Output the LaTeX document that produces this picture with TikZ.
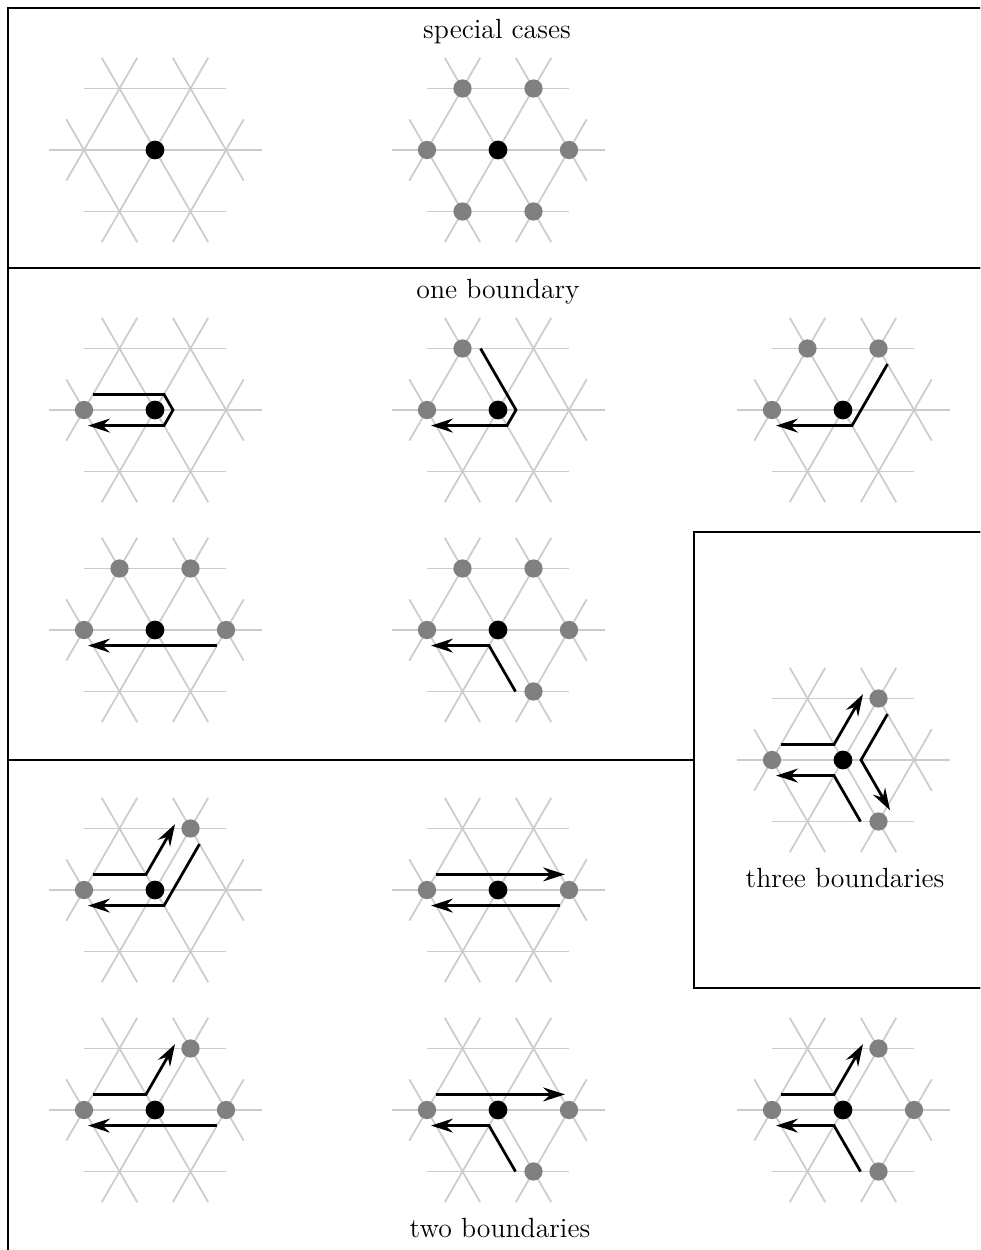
\documentclass[tikz,border=0pt]{standalone}
\usepackage{tikz}
\usetikzlibrary{calc}
\usetikzlibrary{arrows.meta}
\usepackage{xcolor}

\begin{document}
\begin{tikzpicture}[x=0.4pt,y=0.4pt,yscale=-1,xscale=1,
  gridline/.style={color={rgb, 255:red, 204; green, 204; blue, 204}, line width=0.7pt},
  frame/.style={line width=1.1pt},
  bnd/.style={line width=1.1pt},
  bndarr/.style={bnd, -{Stealth[length=8.8pt,width=5.6pt,inset=3pt]}, shorten >=-2pt},
  cdot/.style={circle, fill=black, inner sep=0pt, minimum size=7.5pt},
  ndot/.style={circle, fill={rgb, 255:red, 128; green, 128; blue, 128}, inner sep=0pt, minimum size=7.3pt},
  caption/.style={anchor=base, inner sep=0pt, font=\fontsize{11.1pt}{13pt}\selectfont}]
\useasboundingbox (0,0) rectangle (980,1250);
\clip (0,0) rectangle (980,1250);

%Lattice patches: centre, six neighbours, half edges
\foreach \n/\cx/\cy in {sc1/155/150, sc2/498/150, ob1/155/410, ob2/498/410, ob3/843/410, ob4/155/630, ob5/498/630, tb/843/760, tw1/155/890, tw2/498/890, tw3/155/1110, tw4/498/1110, tw5/843/1110}{
  \coordinate (\n) at (\cx,\cy);
  \coordinate (\n-l) at (\cx-71,\cy);
  \coordinate (\n-r) at (\cx+71,\cy);
  \coordinate (\n-ul) at (\cx-35.5,\cy-61.5);
  \coordinate (\n-ur) at (\cx+35.5,\cy-61.5);
  \coordinate (\n-ll) at (\cx-35.5,\cy+61.5);
  \coordinate (\n-lr) at (\cx+35.5,\cy+61.5);
  \foreach \p in {\n,\n-l,\n-r,\n-ul,\n-ur,\n-ll,\n-lr}
    \foreach \a in {0,60,...,300}
      \draw[gridline] (\p) -- ++(\a:35.5);
}

%Shape: Rectangle [special cases]
\draw[frame] (8,8) rectangle (1000,268);
%Shape: Polygon [one boundary]
\draw[frame] (8,268) -- (1000,268) -- (1000,532) -- (694,532) -- (694,760) -- (8,760) -- cycle;
%Shape: Rectangle [three boundaries]
\draw[frame] (694,532) rectangle (1000,988);
%Shape: Polygon [two boundaries]
\draw[frame] (8,760) -- (694,760) -- (694,988) -- (1000,988) -- (1000,1270) -- (8,1270) -- cycle;

%Vertices
\foreach \n in {sc1,sc2,ob1,ob2,ob3,ob4,ob5,tb,tw1,tw2,tw3,tw4,tw5}
  \node[cdot] (\n-dot) at (\n) {};
\foreach \p in {sc2-l,sc2-r,sc2-ul,sc2-ur,sc2-ll,sc2-lr,
    ob1-l, ob2-ul,ob2-l, ob3-ul,ob3-ur,ob3-l, ob4-ul,ob4-ur,ob4-l,ob4-r, ob5-ul,ob5-ur,ob5-l,ob5-r,ob5-lr,
    tb-l,tb-ur,tb-lr,
    tw1-l,tw1-ur, tw2-l,tw2-r, tw3-l,tw3-ur,tw3-r, tw4-l,tw4-r,tw4-lr, tw5-l,tw5-ur,tw5-r,tw5-lr}
  \node[ndot] (\p-dot) at (\p) {};

%Boundaries: one boundary
\draw[bndarr] ($(ob1-l)+(-60:18)$) -- ($(ob1)+(-60:18)$) -- ($(ob1)+(0:18)$) -- ($(ob1)+(60:18)$) -- ($(ob1-l)+(60:18)$);
\draw[bndarr] ($(ob2-ul)+(0:18)$) -- ($(ob2)+(0:18)$) -- ($(ob2)+(60:18)$) -- ($(ob2-l)+(60:18)$);
\draw[bndarr] ($(ob3-ur)+(60:18)$) -- ($(ob3)+(60:18)$) -- ($(ob3-l)+(60:18)$);
\draw[bndarr] ($(ob4-r)+(120:18)$) -- ($(ob4-l)+(60:18)$);
\draw[bndarr] ($(ob5-lr)+(180:18)$) -- ($(ob5)+(120:18)$) -- ($(ob5-l)+(60:18)$);

%Boundaries: three boundaries
\draw[bndarr] ($(tb-l)+(-60:18)$) -- ($(tb)+(-120:18)$) -- ($(tb-ur)+(180:18)$);
\draw[bndarr] ($(tb-ur)+(60:18)$) -- ($(tb)+(0:18)$) -- ($(tb-lr)+(-60:18)$);
\draw[bndarr] ($(tb-lr)+(180:18)$) -- ($(tb)+(120:18)$) -- ($(tb-l)+(60:18)$);

%Boundaries: two boundaries
\draw[bndarr] ($(tw1-l)+(-60:18)$) -- ($(tw1)+(-120:18)$) -- ($(tw1-ur)+(180:18)$);
\draw[bndarr] ($(tw1-ur)+(60:18)$) -- ($(tw1)+(60:18)$) -- ($(tw1-l)+(60:18)$);
\draw[bndarr] ($(tw2-l)+(-60:18)$) -- ($(tw2-r)+(-120:18)$);
\draw[bndarr] ($(tw2-r)+(120:18)$) -- ($(tw2-l)+(60:18)$);
\draw[bndarr] ($(tw3-l)+(-60:18)$) -- ($(tw3)+(-120:18)$) -- ($(tw3-ur)+(180:18)$);
\draw[bndarr] ($(tw3-r)+(120:18)$) -- ($(tw3-l)+(60:18)$);
\draw[bndarr] ($(tw4-l)+(-60:18)$) -- ($(tw4-r)+(-120:18)$);
\draw[bndarr] ($(tw4-lr)+(180:18)$) -- ($(tw4)+(120:18)$) -- ($(tw4-l)+(60:18)$);
\draw[bndarr] ($(tw5-l)+(-60:18)$) -- ($(tw5)+(-120:18)$) -- ($(tw5-ur)+(180:18)$);
\draw[bndarr] ($(tw5-lr)+(180:18)$) -- ($(tw5)+(120:18)$) -- ($(tw5-l)+(60:18)$);

% Text Node
\node[caption] (cap-sc) at (497,39) {special cases};
% Text Node
\node[caption] (cap-ob) at (498,299) {one boundary};
% Text Node
\node[caption] (cap-tb) at (845,887) {three boundaries};
% Text Node
\node[caption] (cap-tw) at (500,1237) {two boundaries};

\end{tikzpicture}
\end{document}
